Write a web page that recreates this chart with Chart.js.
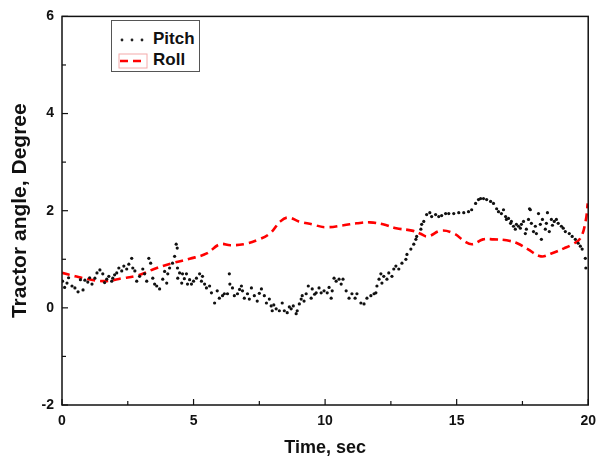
<!DOCTYPE html>
<html><head><meta charset="utf-8">
<script src="https://cdn.jsdelivr.net/npm/chart.js@4.4.1/dist/chart.umd.min.js"></script>
<style>
html,body{margin:0;padding:0;background:#fff;}
#wrap{position:relative;width:604px;height:459px;}
#legend{position:absolute;left:111px;top:20px;width:87px;height:50px;border:1px solid #555;background:#fff;font-family:"Liberation Sans",Arial,sans-serif;font-weight:bold;font-size:17px;color:#111;}
.row{position:absolute;left:0;height:20px;line-height:20px;}
.lbl{position:absolute;left:41px;}
</style></head>
<body><div id="wrap"><canvas id="c" width="604" height="459"></canvas>
<div id="legend">
 <div class="row" style="top:8px;width:87px;"><svg style="position:absolute;left:6px;top:6px" width="32" height="10"><circle cx="4" cy="5" r="1.4" fill="#222"/><circle cx="14" cy="5" r="1.4" fill="#222"/><circle cx="24" cy="5" r="1.4" fill="#222"/></svg><span class="lbl">Pitch</span></div>
 <div class="row" style="top:29px;width:87px;"><svg style="position:absolute;left:6px;top:3px" width="30" height="16"><rect x="1" y="1" width="28" height="14" fill="none" stroke="#f4aaaa" stroke-width="1"/><line x1="2" y1="8" x2="28" y2="8" stroke="#ff0000" stroke-width="2.5" stroke-dasharray="8,5"/></svg><span class="lbl">Roll</span></div>
</div></div>
<script>
const rollTime = [0,0.5,1.0,1.6,2.3,2.9,3.5,4.2,4.85,5.5,6.0,6.4,6.9,7.4,7.9,8.3,8.6,9.0,9.5,10.0,10.7,11.2,11.7,12.2,12.7,13.3,13.6,13.9,14.4,14.9,15.3,15.6,16.0,16.4,16.9,17.3,17.7,18.2,18.6,19.1,19.4,19.7,19.9,19.98];
const rollValue = [0.72,0.65,0.59,0.55,0.61,0.67,0.80,0.92,1.01,1.12,1.31,1.29,1.31,1.39,1.53,1.78,1.86,1.78,1.72,1.66,1.70,1.74,1.76,1.72,1.64,1.59,1.53,1.47,1.59,1.53,1.37,1.31,1.41,1.41,1.39,1.33,1.21,1.06,1.12,1.23,1.31,1.43,1.78,2.15];

const pitchTime = [0.02,0.1,0.19,0.25,0.38,0.49,0.61,0.70,0.80,0.87,0.98,1.05,1.14,1.25,1.33,1.44,1.55,1.62,1.70,1.78,1.89,1.93,2.0,2.08,2.16,2.27,2.35,2.46,2.54,2.65,2.69,2.77,2.84,2.95,3.07,3.14,3.22,3.30,3.37,3.45,3.52,3.60,3.71,3.83,3.90,3.98,
4.02,4.09,4.20,4.28,4.34,4.38,4.39,4.40,4.47,4.55,4.58,4.65,4.73,4.77,4.85,4.92,5.0,5.11,5.23,5.30,5.34,5.42,5.49,5.61,5.68,5.80,5.90,5.98,6.10,6.17,6.29,6.36,6.38,6.48,6.55,6.67,6.75,6.82,6.86,6.93,7.05,7.12,7.20,7.31,7.42,7.50,7.58,7.69,7.77,7.88,7.95,7.99,
8.05,8.14,8.26,8.37,8.45,8.56,8.64,8.71,8.79,8.90,8.94,9.02,9.09,9.13,9.20,9.28,9.36,9.47,9.51,9.60,9.66,9.77,9.85,9.96,10.08,10.15,10.23,10.27,10.34,10.42,10.53,10.61,10.68,10.80,10.91,11.02,11.14,11.21,11.36,11.48,11.59,11.74,11.86,11.93,11.97,
12.05,12.12,12.16,12.23,12.35,12.42,12.54,12.61,12.69,12.80,12.92,13.07,13.11,13.26,13.37,13.45,13.48,13.64,13.67,13.75,13.86,13.98,14.05,14.20,14.32,14.43,14.58,14.70,14.89,15.08,15.27,15.45,15.57,15.72,15.83,
15.91,16.02,16.14,16.29,16.40,16.52,16.59,16.70,16.78,16.86,16.89,16.97,17.05,17.08,17.16,17.23,17.27,17.35,17.42,17.46,17.54,17.61,17.65,17.73,17.77,17.80,17.84,17.92,17.99,18.03,18.11,18.18,18.22,18.26,18.37,18.41,18.45,18.52,18.60,18.64,18.71,18.79,18.86,18.98,19.05,19.13,19.28,19.39,19.51,19.62,19.70,19.77,19.89,19.91];
const pitchValue = [0.55,0.42,0.51,0.62,0.45,0.41,0.33,0.58,0.37,0.57,0.53,0.62,0.49,0.61,0.72,0.78,0.70,0.52,0.59,0.65,0.55,0.61,0.68,0.72,0.82,0.76,0.86,0.80,0.90,1.02,0.82,0.76,0.55,0.65,0.80,0.70,0.55,1.02,0.92,0.61,0.49,0.45,0.39,0.59,0.75,0.51,
0.70,0.82,0.92,1.06,1.31,1.23,0.82,0.61,0.72,0.51,0.70,0.60,0.70,0.49,0.58,0.49,0.55,0.61,0.70,0.55,0.65,0.49,0.41,0.45,0.31,0.10,0.35,0.20,0.25,0.29,0.29,0.70,0.49,0.41,0.25,0.29,0.38,0.45,0.35,0.20,0.29,0.18,0.41,0.25,0.14,0.30,0.39,0.25,0.10,0.18,0.04,-0.06,
0.06,-0.02,-0.06,0.10,-0.06,-0.10,0.02,-0.02,0.04,-0.12,-0.06,0.08,0.18,0.25,0.14,0.29,0.45,0.20,0.39,0.28,0.31,0.41,0.31,0.35,0.31,0.42,0.20,0.35,0.61,0.55,0.59,0.49,0.59,0.35,0.20,0.29,0.20,0.29,0.10,0.08,0.20,0.25,0.29,0.31,0.45,
0.59,0.70,0.51,0.65,0.59,0.72,0.65,0.80,0.86,0.80,0.92,1.00,1.10,1.21,1.31,1.41,1.47,1.62,1.72,1.78,1.92,1.96,1.88,1.92,1.88,1.90,1.94,1.94,1.94,1.96,1.96,1.98,2.02,2.15,2.23,
2.25,2.25,2.23,2.19,2.15,2.04,1.98,1.94,2.02,1.88,1.82,1.84,1.74,1.78,1.68,1.62,1.72,1.68,1.64,1.72,1.78,1.53,1.62,1.82,2.04,2.02,1.74,1.57,1.68,1.53,1.94,1.72,1.41,1.82,1.62,1.74,1.96,1.57,1.82,1.70,1.78,1.82,1.74,1.68,1.64,1.57,1.53,1.47,1.41,1.33,1.27,1.21,1.02,0.82];

const xTicks = [0,5,10,15,20];
const yTicks = [-2,0,2,4,6];

const pitchData = pitchTime.map((t,i)=>({x:t,y:pitchValue[i]}));
const rollData = rollTime.map((t,i)=>({x:t,y:rollValue[i]}));
const FONT = "'Liberation Sans', Arial, sans-serif";

const frame = {
  id:'frame',
  afterDatasetsDraw(chart){
    const {ctx, chartArea:a, scales:{x,y}} = chart;
    ctx.save();
    ctx.strokeStyle='#111'; ctx.lineWidth=1.5;
    ctx.strokeRect(a.left,a.top,a.right-a.left,a.bottom-a.top);
    ctx.lineWidth=1.2;
    for(let v=0; v<=20; v+=2.5){
      const px=x.getPixelForValue(v); const L=(v%5===0)?6:4;
      ctx.beginPath(); ctx.moveTo(px,a.bottom); ctx.lineTo(px,a.bottom-L); ctx.stroke();
    }
    for(let v=-2; v<=6; v+=1){
      const py=y.getPixelForValue(v); const L=(v%2===0)?6:4;
      ctx.beginPath(); ctx.moveTo(a.left,py); ctx.lineTo(a.left+L,py); ctx.stroke();
    }
    ctx.restore();
  }
};

new Chart(document.getElementById('c'),{
  type:'scatter',
  data:{datasets:[
    {label:'Roll',data:rollData,showLine:true,borderColor:'#ff0000',borderWidth:2.6,borderDash:[8,5],pointRadius:0,tension:0.4,fill:false,order:2},
    {label:'Pitch',data:pitchData,showLine:false,backgroundColor:'#111',borderColor:'#111',pointRadius:1.6,pointBorderWidth:0,order:1}
  ]},
  options:{
    responsive:false,animation:false,
    layout:{padding:{left:0,right:14,top:16,bottom:0}},
    plugins:{legend:{display:false},tooltip:{enabled:false}},
    scales:{
      x:{type:'linear',min:0,max:20,
        afterBuildTicks(s){s.ticks=xTicks.map(v=>({value:v}));},
        grid:{display:false,drawTicks:false},border:{display:false},
        ticks:{padding:8,color:'#111',font:{family:FONT,weight:'bold',size:14}},
        title:{display:true,text:'Time, sec',color:'#111',font:{family:FONT,weight:'bold',size:18},padding:{top:6,bottom:0}},
        afterFit(s){s.height=54;}
      },
      y:{type:'linear',min:-2,max:6,
        afterBuildTicks(s){s.ticks=yTicks.map(v=>({value:v}));},
        grid:{display:false,drawTicks:false},border:{display:false},
        ticks:{padding:8,color:'#111',font:{family:FONT,weight:'bold',size:14}},
        title:{display:true,text:'Tractor angle, Degree',color:'#111',font:{family:FONT,weight:'bold',size:21},padding:{top:8,bottom:4}},
        afterFit(s){s.width=62;}
      }
    }
  },
  plugins:[frame]
});
</script></body></html>
